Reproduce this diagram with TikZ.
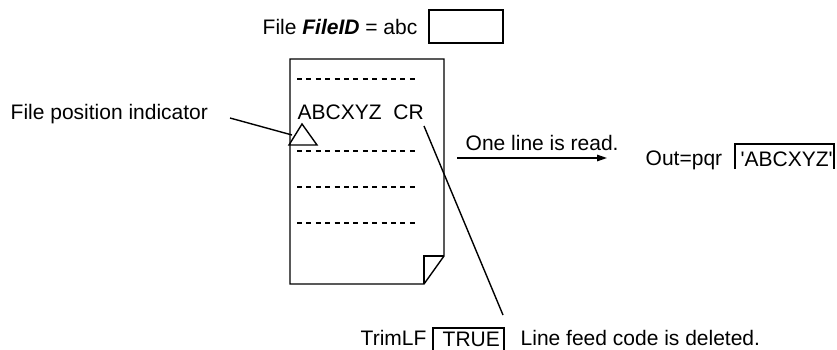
\documentclass[tikz,border=0pt]{standalone}
\usepackage{fontspec}
\setmainfont{Liberation Sans}
\usetikzlibrary{arrows.meta}
\begin{document}
\begin{tikzpicture}[x=1pt,y=-1pt,line width=1.4pt,
  txt/.style={inner sep=0pt,anchor=base west,font=\fontsize{21}{25}\selectfont},
  dots/.style={line width=1.3pt,dash pattern=on 5pt off 4.4pt},
  ptr/.style={line width=1.4pt}]
\useasboundingbox (0,0) rectangle (837,350);
% title
\node[txt] (fileid) at (262,35) {File \textbf{\textit{FileID}} = abc};
\node[draw,minimum width=74pt,minimum height=33pt,inner sep=0pt] (idbox) at (466,26.5) {};
% document
\draw (290,59) -- (444,59) -- (444,256) -- (424,284) -- (290,284) -- cycle;
\draw (444,256) -- (424,256) -- (424,284);
\foreach \yy in {79,151,187,223} \draw[dots] (297,\yy) -- (418,\yy);
\node[txt] (line) at (297,120) {ABCXYZ\ \ CR};
\coordinate (cr) at (424,126);
% file position indicator
\draw (302,124) -- (289,145) -- (317,145) -- cycle;
\coordinate (tri) at (292,135);
\node[txt] (fpi) at (10,120) {File position indicator};
\coordinate (fpiend) at (230,118);
\draw[ptr] (fpiend) -- (tri);
% read arrow
\coordinate (a1) at (457,158);
\coordinate (a2) at (607,158);
\draw[-{Triangle[length=10pt,width=6.5pt]}] (a1) -- (a2);
\node[txt] (read) at (465,150) {One line is read.};
\node[txt] (out) at (645,165) {Out=pqr};
\node[txt] (outval) at (740,166) {\textquotesingle ABCXYZ\textquotesingle};
\draw (735,169) -- (735,144) -- (834,144) -- (834,169);
% trim
\node[txt] (trim) at (360,345) {TrimLF};
\node[txt] (trueval) at (442,346) {TRUE};
\draw (433,351) -- (433,328) -- (504,328) -- (504,351);
\node[txt] (lf) at (520,345) {Line feed code is deleted.};
\coordinate (trimend) at (503,315);
\draw[ptr] (cr) -- (trimend);
\end{tikzpicture}
\end{document}
